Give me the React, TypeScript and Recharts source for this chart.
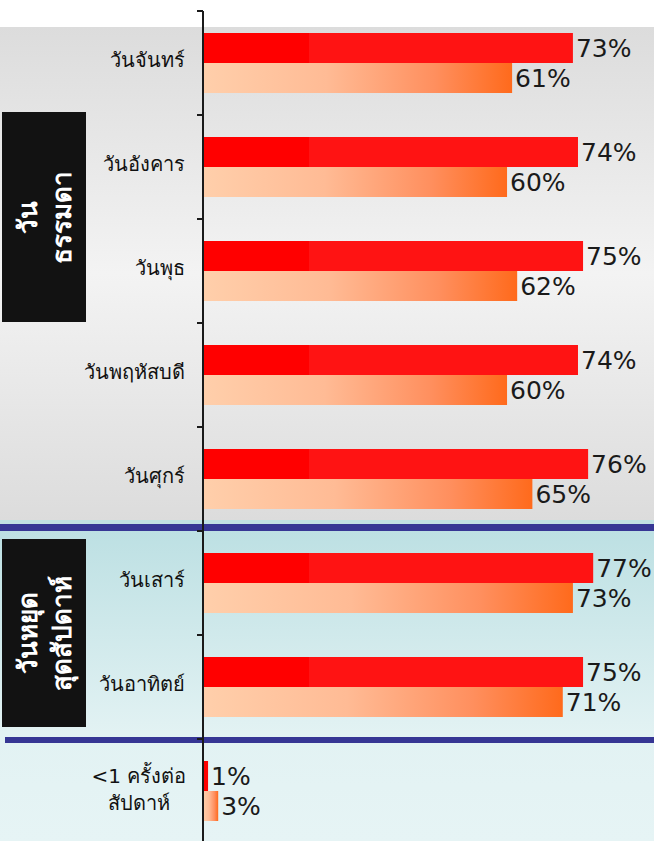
import React from "react";
import { BarChart, Bar, XAxis, YAxis, LabelList } from "recharts";

const categories = [
  "วันจันทร์",
  "วันอังคาร",
  "วันพุธ",
  "วันพฤหัสบดี",
  "วันศุกร์",
  "วันเสาร์",
  "วันอาทิตย์",
  "<1 ครั้งต่อ\nสัปดาห์",
];
const seriesA = [73, 74, 75, 74, 76, 77, 75, 1];
const seriesB = [61, 60, 62, 60, 65, 73, 71, 3];

const data = categories.map((name, i) => ({ name, a: seriesA[i], b: seriesB[i] }));

const FONT = "Tahoma, 'DejaVu Sans', 'Noto Sans', sans-serif";
const TICK_MARGIN = 18;

function CategoryTick(props: any) {
  const { x, y, payload, index, visibleTicksCount } = props;
  const lines = String(payload.value).split("\n");
  const half = payload.offset || 0;
  const ax = x + TICK_MARGIN;
  // Excel-style tick marks sit on the band boundaries, not the band centres
  const marks = [y - half];
  if (index === (visibleTicksCount ?? categories.length) - 1) marks.push(y + half);
  return (
    <g>
      {half > 0 &&
        marks.map((m, i) => (
          <line key={"m" + i} x1={ax - 6} x2={ax} y1={m} y2={m} stroke="#1a1a1a" strokeWidth={2} />
        ))}
      {lines.length > 1 ? (
        lines.map((l, i) => (
          <text
            key={i}
            x={x - 46}
            y={y - 8 + i * 27}
            textAnchor="middle"
            fontSize={20}
            fill="#111"
            fontFamily={FONT}
          >
            {l}
          </text>
        ))
      ) : (
        <text x={x} y={y + 4} textAnchor="end" fontSize={20} fill="#111" fontFamily={FONT}>
          {lines[0]}
        </text>
      )}
    </g>
  );
}

function SideBox({ top, height, lines }: { top: number; height: number; lines: string[] }) {
  return (
    <div
      style={{
        position: "absolute",
        left: 2,
        top,
        width: 84,
        height,
        background: "#121212",
        display: "flex",
        alignItems: "center",
        justifyContent: "center",
      }}
    >
      <div
        style={{
          transform: "rotate(-90deg)",
          color: "#fff",
          fontWeight: "bold",
          fontSize: 26,
          lineHeight: "34px",
          textAlign: "center",
          whiteSpace: "nowrap",
          fontFamily: FONT,
        }}
      >
        {lines.map((l) => (
          <div key={l}>{l}</div>
        ))}
      </div>
    </div>
  );
}

export default function App() {
  return (
    <div
      style={{
        position: "absolute",
        left: 0,
        top: 0,
        width: 654,
        height: 841,
        overflow: "hidden",
        background: "#fff",
        fontFamily: FONT,
      }}
    >
      {/* section backgrounds */}
      <div
        style={{
          position: "absolute",
          left: 0,
          top: 27,
          width: 654,
          height: 493,
          background: "linear-gradient(to bottom, #dcdcdc 0%, #f3f3f3 50%, #dcdcdc 100%)",
        }}
      />
      <div style={{ position: "absolute", left: 0, top: 520, width: 654, height: 4, background: "#c0e0e2" }} />
      <div
        style={{
          position: "absolute",
          left: 0,
          top: 531,
          width: 654,
          height: 310,
          background: "linear-gradient(to bottom, #bde0e3 0%, #e2f2f3 65%, #e6f4f5 100%)",
        }}
      />
      <div style={{ position: "absolute", left: 0, top: 524, width: 654, height: 7, background: "#363694" }} />
      <div style={{ position: "absolute", left: 5, top: 737, width: 649, height: 6, background: "#363694" }} />

      <SideBox top={112} height={210} lines={["วัน", "ธรรมดา"]} />
      <SideBox top={539} height={188} lines={["วันหยุด", "สุดสัปดาห์"]} />

      <div style={{ position: "absolute", left: 0, top: 0 }}>
        <BarChart
          width={654}
          height={843}
          data={data}
          layout="vertical"
          margin={{ top: 11, right: 0, bottom: 0, left: 0 }}
          barSize={30}
          barGap={0}
        >
          <defs>
            <linearGradient id="redFill" gradientUnits="userSpaceOnUse" x1={0} y1={0} x2={654} y2={0}>
              <stop offset="0.4725" stopColor="#ff0000" />
              <stop offset="0.4725" stopColor="#ff1313" />
            </linearGradient>
            <linearGradient id="peachFill" x1="0" y1="0" x2="1" y2="0">
              <stop offset="0" stopColor="#ffcfab" />
              <stop offset="0.4" stopColor="#ffbb95" />
              <stop offset="0.75" stopColor="#ff8f5e" />
              <stop offset="1" stopColor="#ff6a1c" />
            </linearGradient>
          </defs>
          <XAxis type="number" hide domain={[0, 89]} allowDataOverflow />
          <YAxis
            type="category"
            dataKey="name"
            width={203}
            tickLine={false}
            tickSize={0}
            tickMargin={TICK_MARGIN}
            axisLine={{ stroke: "#1a1a1a", strokeWidth: 2 }}
            tick={<CategoryTick />}
            interval={0}
          />
          <Bar dataKey="a" fill="url(#redFill)" isAnimationActive={false}>
            <LabelList
              dataKey="a"
              position="right"
              offset={3}
              formatter={(v: any) => `${v}%`}
              fill="#1a1a1a"
              fontSize={25}
              fontFamily={FONT}
            />
          </Bar>
          <Bar dataKey="b" fill="url(#peachFill)" isAnimationActive={false}>
            <LabelList
              dataKey="b"
              position="right"
              offset={3}
              formatter={(v: any) => `${v}%`}
              fill="#1a1a1a"
              fontSize={25}
              fontFamily={FONT}
            />
          </Bar>
        </BarChart>
      </div>
    </div>
  );
}
